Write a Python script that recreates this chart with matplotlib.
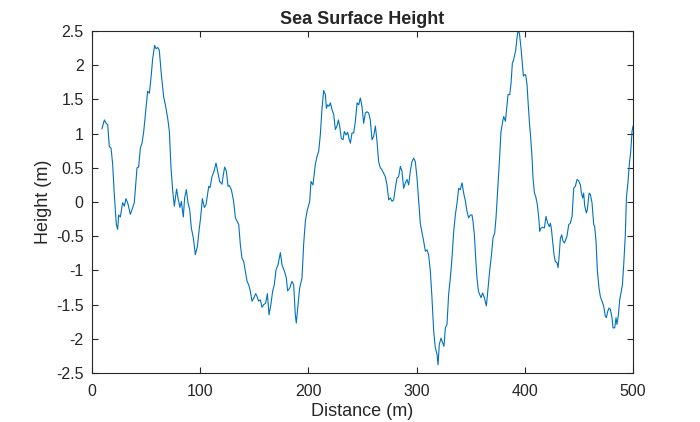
import numpy as np
import matplotlib
matplotlib.use("Agg")
import matplotlib.pyplot as plt

# values
distance = [
    9.2, 11.4, 13.0, 14.5, 16.0, 17.6, 19.1, 20.6, 22.5, 23.7, 24.6, 26.2, 28.3, 29.9,
    31.4, 33.3, 35.4, 37.0, 39.1, 41.6, 43.1, 44.7, 46.2, 47.8, 49.3, 51.4, 53.0, 54.5,
    56.1, 57.9, 59.2, 60.7, 62.2, 64.1, 66.2, 67.8, 69.9, 71.5, 73.0, 74.6, 76.1, 78.2,
    79.8, 81.3, 82.6, 84.4, 85.6, 87.2, 88.7, 90.3, 91.8, 93.7, 95.5, 97.4, 99.2, 100.4,
    102.0, 103.8, 105.4, 107.9, 109.1, 110.9, 112.8, 114.6, 116.1, 118.0, 120.1, 121.4,
    122.6, 124.2, 125.7, 126.9, 128.8, 130.9, 132.5, 134.0, 135.6, 137.1, 138.6, 140.2,
    141.7, 143.3, 144.8, 146.3, 147.9, 149.7, 151.3, 152.5, 154.0, 155.6, 157.1, 158.7,
    160.5, 162.1, 163.6, 165.1, 167.0, 168.5, 170.1, 171.9, 174.1, 175.6, 177.8,
    179.6, 180.8, 182.7, 184.8, 186.4, 187.9, 188.8, 190.4, 191.9, 194.1, 195.6, 197.2,
    198.7, 201.2, 202.4, 204.2, 206.4, 208.0, 209.5, 211.0, 212.6, 214.1, 215.7, 216.6,
    217.8, 219.0, 220.3, 221.8, 223.4, 224.9, 226.4, 227.7, 228.9, 230.4, 232.0, 233.2,
    234.8, 236.3, 237.5, 238.8, 240.3, 241.9, 243.4, 245.0, 246.5, 248.0, 249.5, 251.1,
    252.6, 254.2, 255.7, 257.2, 258.8, 260.3, 261.9, 263.4, 264.9, 266.5, 268.0, 269.6,
    271.1, 272.6, 274.2, 275.7, 277.3, 278.8, 280.3, 281.9, 283.4, 285.0, 286.5, 288.0,
    289.6, 291.1, 292.7, 294.2, 295.7, 297.3, 298.8, 300.4, 301.9, 303.4, 305.0, 306.5,
    308.1, 309.6, 311.1, 312.7, 314.2, 315.8, 317.3, 318.9, 319.8, 321.0, 322.6, 324.1,
    325.3, 326.6, 328.1, 329.6, 331.2, 332.7, 334.3, 335.8, 337.4, 338.9, 340.4, 342.0,
    343.5, 345.1, 346.6, 348.1, 349.7,
    351.2, 352.1, 353.4, 354.6, 355.8, 357.1, 358.3, 359.5, 361.1, 362.6, 364.5, 366.0,
    367.5, 369.1, 370.6, 372.2, 373.4, 374.9, 376.5, 378.0, 379.6, 380.5, 382.1, 383.6,
    384.5, 386.1, 387.3, 388.5, 389.7, 390.7, 391.6, 392.8, 393.7, 395.0, 396.5, 397.7,
    398.7, 399.6, 400.8, 402.1, 403.0, 404.2, 405.5, 406.7, 407.6, 408.9, 410.1, 411.6,
    412.9, 413.8, 415.0, 416.5, 418.1, 419.6, 421.1, 422.7, 423.6, 424.5, 425.7, 427.0,
    428.2, 429.8, 430.7, 431.6, 432.9, 434.1, 435.3, 436.6, 437.8, 439.0, 440.6, 442.1,
    443.7, 445.2, 446.7, 448.3, 449.8, 451.4, 452.3, 453.5, 454.4, 455.4, 456.9, 457.8,
    459.4, 460.6, 462.1, 463.7, 464.6, 465.8, 467.1, 468.6, 469.8, 471.4, 472.9, 474.4,
    475.4, 476.6, 477.8, 479.1, 480.6, 481.5, 483.1, 484.3, 485.2, 486.5, 487.7, 488.9,
    490.2, 491.4, 492.9, 493.9, 495.4, 496.6, 497.9, 499.1, 500.0,
]
height = [
    1.07, 1.20, 1.15, 1.13, 0.81, 0.79, 0.55, 0.11, -0.33, -0.40, -0.19, -0.22, -0.01, -0.06,
    0.05, -0.03, -0.18, -0.11, -0.01, 0.50, 0.51, 0.79, 0.86, 1.03, 1.28, 1.62, 1.59, 1.81,
    2.10, 2.29, 2.24, 2.26, 2.22, 1.86, 1.54, 1.42, 1.23, 1.03, 0.50, 0.16, -0.06, 0.19,
    0.03, -0.08, 0.01, -0.22, 0.06, 0.18, -0.01, -0.11, -0.38, -0.53, -0.77, -0.65, -0.38, -0.23,
    0.05, -0.08, -0.04, 0.23, 0.21, 0.37, 0.45, 0.57, 0.45, 0.30, 0.26, 0.40,
    0.51, 0.45, 0.23, 0.24, 0.18, 0.01, -0.23, -0.28, -0.33, -0.62, -0.82, -0.87,
    -1.01, -1.16, -1.21, -1.30, -1.45, -1.40, -1.34, -1.38, -1.45, -1.43, -1.54, -1.50,
    -1.48, -1.34, -1.65, -1.52, -1.30, -1.21, -0.99, -0.92, -0.74, -0.92, -1.01,
    -1.11, -1.30, -1.26, -1.16, -1.21, -1.65, -1.77, -1.50, -1.26, -1.11, -0.62, -0.28,
    -0.14, 0.01, 0.30, 0.25, 0.55, 0.67, 0.74, 0.98, 1.37, 1.63, 1.57, 1.37,
    1.42, 1.40, 1.45, 1.35, 1.28, 1.06, 1.11, 1.20, 1.11, 0.93, 0.91, 1.03,
    0.98, 1.02, 0.93, 0.86, 1.01, 1.01, 1.18, 1.45, 1.42, 1.52, 1.40, 1.15,
    1.30, 1.32, 1.30, 1.20, 0.91, 0.96, 1.11, 0.89, 0.59, 0.50, 0.47, 0.42,
    0.37, 0.25, 0.03, 0.06, 0.01, 0.03, 0.20, 0.35, 0.37, 0.52, 0.45, 0.20,
    0.28, 0.33, 0.25, 0.45, 0.59, 0.64, 0.59, 0.35, 0.01, -0.31, -0.45, -0.57,
    -0.72, -0.70, -0.77, -1.01, -1.40, -1.89, -2.13, -2.23, -2.38, -2.08, -1.99, -2.06,
    -2.11, -1.84, -1.79, -1.35, -1.11, -0.82, -0.43, -0.19, -0.01, 0.20, 0.18, 0.28,
    0.13, 0.01, -0.14, -0.23, -0.19,
    -0.19, -0.28, -0.48, -0.82, -1.11, -1.30, -1.35, -1.40, -1.33, -1.40, -1.52, -1.26,
    -1.01, -0.79, -0.53, -0.45, -0.23, 0.16, 0.59, 1.03, 1.18, 1.25, 1.18, 1.42,
    1.57, 1.57, 1.74, 2.03, 2.08, 2.15, 2.22, 2.40, 2.50, 2.47, 2.25, 2.03,
    1.84, 1.86, 1.86, 1.71, 1.47, 1.18, 0.93, 0.64, 0.35, 0.13, 0.08, -0.04,
    -0.23, -0.43, -0.38, -0.37, -0.38, -0.21, -0.31, -0.36, -0.31, -0.38, -0.57, -0.77,
    -0.87, -0.89, -0.96, -0.82, -0.53, -0.48, -0.57, -0.60, -0.55, -0.50, -0.33, -0.31,
    -0.21, 0.20, 0.23, 0.33, 0.31, 0.25, 0.13, 0.06, 0.13, -0.06, -0.16, -0.11,
    0.13, 0.11, -0.01, -0.33, -0.36, -0.57, -1.01, -1.26, -1.38, -1.45, -1.52, -1.67,
    -1.69, -1.60, -1.55, -1.57, -1.69, -1.84, -1.84, -1.69, -1.79, -1.65, -1.43, -1.33,
    -1.21, -0.92, -0.48, 0.06, 0.30, 0.55, 0.74, 1.03, 1.11,
]

plt.rcParams['font.family'] = ['Liberation Sans', 'DejaVu Sans']

fig = plt.figure(figsize=(7, 4.22), dpi=100)
ax = fig.add_axes([92 / 700, 49 / 422, 541 / 700, 342 / 422])

ax.plot(distance, height, color='#0072BD', linewidth=0.8)

ax.set_xlim(0, 500)
ax.set_ylim(-2.5, 2.5)
ax.set_xticks(np.arange(0, 501, 100))
ax.set_yticks(np.arange(-2.5, 2.51, 0.5))
ax.set_yticklabels(['-2.5', '-2', '-1.5', '-1', '-0.5', '0', '0.5', '1', '1.5', '2', '2.5'])

axcol = '#262626'
for s in ax.spines.values():
    s.set_color(axcol)
    s.set_linewidth(0.8)
ax.tick_params(direction='in', length=4, width=0.8, colors=axcol, labelsize=11.5,
               top=True, right=True)
ax.tick_params(axis='x', pad=8)
ax.tick_params(axis='y', pad=6)

ax.set_xlabel('Distance (m)', fontsize=13, color=axcol, labelpad=3)
ax.set_ylabel('Height (m)', fontsize=13, color=axcol, labelpad=3)
ax.set_title('Sea Surface Height', fontsize=13, fontweight='bold', color=axcol, pad=5)

fig.savefig('out.png', dpi=100)
